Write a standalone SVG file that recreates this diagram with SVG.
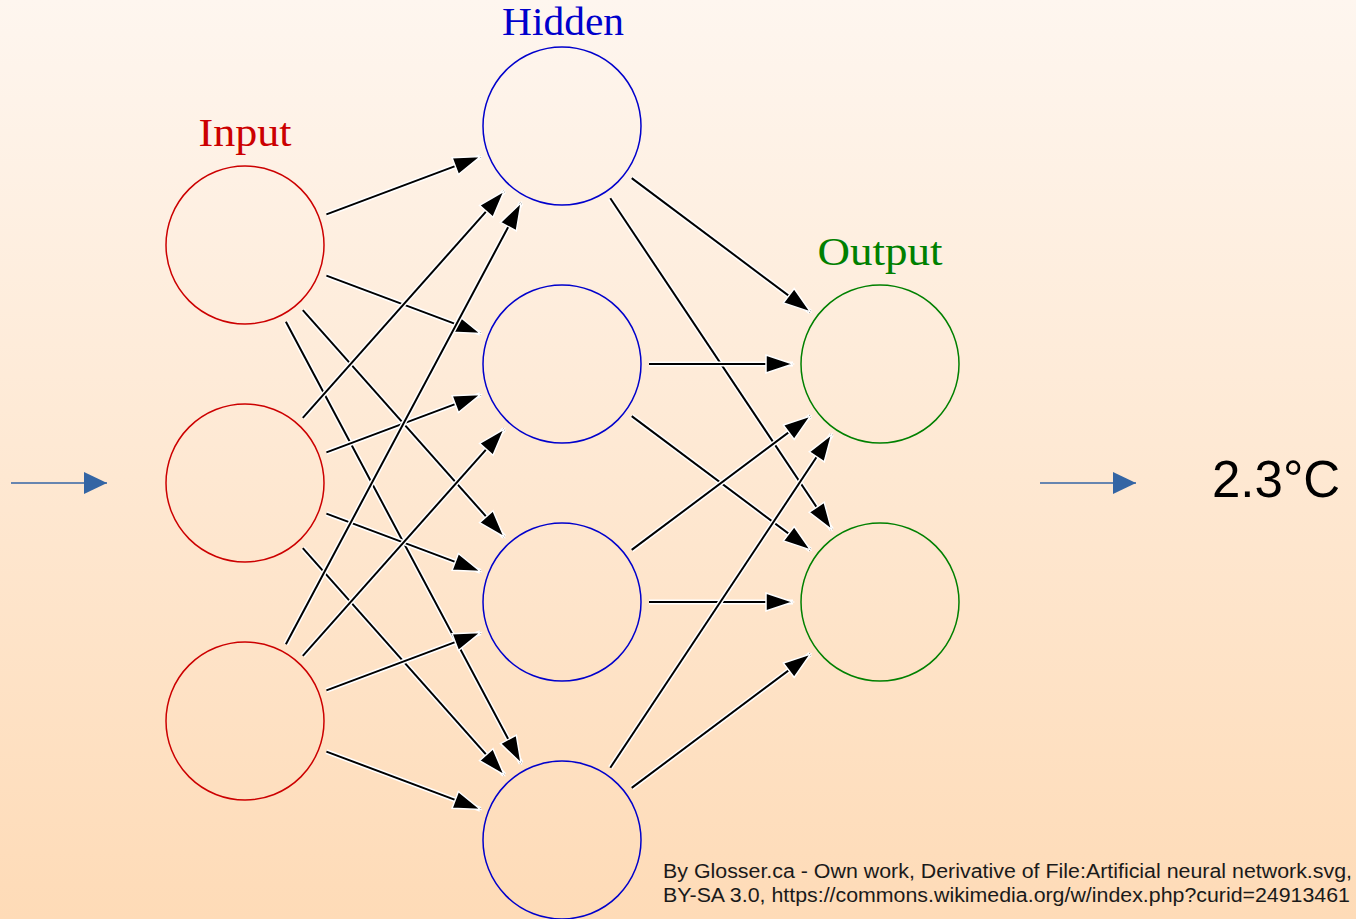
<svg xmlns="http://www.w3.org/2000/svg" width="1356" height="919" viewBox="0 0 1356 919">
<defs>
<linearGradient id="bg" x1="0" y1="0" x2="0" y2="1">
<stop offset="0" stop-color="#fef6ef"/>
<stop offset="1" stop-color="#fedbb7"/>
</linearGradient>
<marker id="ah" markerUnits="userSpaceOnUse" markerWidth="40" markerHeight="30" viewBox="-4 -4 40 30" refX="27" refY="9" orient="auto" overflow="visible">
<path d="M0,0 L27,9 L0,18 Z" fill="#000" stroke="#fff" stroke-width="1.5" stroke-linejoin="miter"/>
</marker>
<marker id="bh" markerUnits="userSpaceOnUse" markerWidth="30" markerHeight="30" viewBox="0 0 30 30" refX="23" refY="11" orient="auto" overflow="visible">
<path d="M0,0 L23,11 L0,22 Z" fill="#3465a4"/>
</marker>
<style>
.lbl{font-family:"Liberation Serif","Times New Roman",serif;font-size:41px;text-anchor:middle}
.in{fill:none;stroke:#cc0000;stroke-width:1.5}
.hid{fill:none;stroke:#0000cc;stroke-width:1.5}
.out{fill:none;stroke:#008000;stroke-width:1.5}
.halo{stroke:#fff;stroke-width:5;fill:none}
.wire{stroke:#000;stroke-width:2;fill:none;marker-end:url(#ah)}
.blue{stroke:#3465a4;stroke-width:1.4;fill:none;marker-end:url(#bh)}
.note{font-family:"Liberation Sans",Arial,sans-serif;font-size:20px;fill:#1a1a1a}
</style>
</defs>
<rect width="1356" height="919" fill="url(#bg)"/>

<g id="connectors">
<g><line class="halo" x1="326.4" y1="214.4" x2="480.5" y2="156.6"/><line class="wire" x1="326.4" y1="214.4" x2="480.5" y2="156.6"/></g>
<g><line class="halo" x1="326.4" y1="275.6" x2="480.5" y2="333.4"/><line class="wire" x1="326.4" y1="275.6" x2="480.5" y2="333.4"/></g>
<g><line class="halo" x1="302.8" y1="310.1" x2="504.2" y2="536.9"/><line class="wire" x1="302.8" y1="310.1" x2="504.2" y2="536.9"/></g>
<g><line class="halo" x1="285.9" y1="321.8" x2="521.1" y2="763.2"/><line class="wire" x1="285.9" y1="321.8" x2="521.1" y2="763.2"/></g>
<g><line class="halo" x1="302.8" y1="417.9" x2="504.2" y2="191.1"/><line class="wire" x1="302.8" y1="417.9" x2="504.2" y2="191.1"/></g>
<g><line class="halo" x1="326.4" y1="452.4" x2="480.5" y2="394.6"/><line class="wire" x1="326.4" y1="452.4" x2="480.5" y2="394.6"/></g>
<g><line class="halo" x1="326.4" y1="513.6" x2="480.5" y2="571.4"/><line class="wire" x1="326.4" y1="513.6" x2="480.5" y2="571.4"/></g>
<g><line class="halo" x1="302.8" y1="548.1" x2="504.2" y2="774.9"/><line class="wire" x1="302.8" y1="548.1" x2="504.2" y2="774.9"/></g>
<g><line class="halo" x1="285.9" y1="644.2" x2="521.1" y2="202.8"/><line class="wire" x1="285.9" y1="644.2" x2="521.1" y2="202.8"/></g>
<g><line class="halo" x1="302.8" y1="655.9" x2="504.2" y2="429.1"/><line class="wire" x1="302.8" y1="655.9" x2="504.2" y2="429.1"/></g>
<g><line class="halo" x1="326.4" y1="690.4" x2="480.5" y2="632.6"/><line class="wire" x1="326.4" y1="690.4" x2="480.5" y2="632.6"/></g>
<g><line class="halo" x1="326.4" y1="751.6" x2="480.5" y2="809.4"/><line class="wire" x1="326.4" y1="751.6" x2="480.5" y2="809.4"/></g>

<g><line class="halo" x1="631.7" y1="178.1" x2="810.4" y2="311.9"/><line class="wire" x1="631.7" y1="178.1" x2="810.4" y2="311.9"/></g>
<g><line class="halo" x1="610.3" y1="198.3" x2="831.7" y2="529.7"/><line class="wire" x1="610.3" y1="198.3" x2="831.7" y2="529.7"/></g>
<g><line class="halo" x1="649" y1="364" x2="793" y2="364"/><line class="wire" x1="649" y1="364" x2="793" y2="364"/></g>
<g><line class="halo" x1="631.7" y1="416.1" x2="810.4" y2="549.9"/><line class="wire" x1="631.7" y1="416.1" x2="810.4" y2="549.9"/></g>
<g><line class="halo" x1="631.7" y1="549.9" x2="810.4" y2="416.1"/><line class="wire" x1="631.7" y1="549.9" x2="810.4" y2="416.1"/></g>
<g><line class="halo" x1="649" y1="602" x2="793" y2="602"/><line class="wire" x1="649" y1="602" x2="793" y2="602"/></g>
<g><line class="halo" x1="610.3" y1="767.7" x2="831.7" y2="434.3"/><line class="wire" x1="610.3" y1="767.7" x2="831.7" y2="434.3"/></g>
<g><line class="halo" x1="631.7" y1="787.9" x2="810.4" y2="654.1"/><line class="wire" x1="631.7" y1="787.9" x2="810.4" y2="654.1"/></g>

<line class="blue" x1="11" y1="483" x2="107" y2="483"/>
<line class="blue" x1="1040" y1="483" x2="1136" y2="483"/>
</g>

<g id="input-layer">
<text class="lbl" x="245" y="146" fill="#cc0000" textLength="93" lengthAdjust="spacingAndGlyphs">Input</text>
<g id="in1"><circle class="in" cx="245" cy="245" r="79"/></g>
<g id="in2"><circle class="in" cx="245" cy="483" r="79"/></g>
<g id="in3"><circle class="in" cx="245" cy="721" r="79"/></g>
</g>
<g id="hidden-layer">
<text class="lbl" x="563" y="35" fill="#0000cc" font-size="39" style="font-size:39px" textLength="122" lengthAdjust="spacingAndGlyphs">Hidden</text>
<g id="h1"><circle class="hid" cx="562" cy="126" r="79"/></g>
<g id="h2"><circle class="hid" cx="562" cy="364" r="79"/></g>
<g id="h3"><circle class="hid" cx="562" cy="602" r="79"/></g>
<g id="h4"><circle class="hid" cx="562" cy="840" r="79"/></g>
</g>
<g id="output-layer">
<text class="lbl" x="880" y="265" fill="#008000" textLength="125" lengthAdjust="spacingAndGlyphs">Output</text>
<g id="o1"><circle class="out" cx="880" cy="364" r="79"/></g>
<g id="o2"><circle class="out" cx="880" cy="602" r="79"/></g>
</g>

<g id="result"><text x="1212" y="497" font-family="Liberation Sans, Arial, sans-serif" font-size="51" fill="#000">2.3°C</text></g>

<g id="credit">
<text class="note" x="663" y="878" textLength="689" lengthAdjust="spacingAndGlyphs">By Glosser.ca - Own work, Derivative of File:Artificial neural network.svg,</text>
<text class="note" x="663" y="902" textLength="687" lengthAdjust="spacingAndGlyphs">BY-SA 3.0, https://commons.wikimedia.org/w/index.php?curid=24913461</text>
</g>
</svg>
